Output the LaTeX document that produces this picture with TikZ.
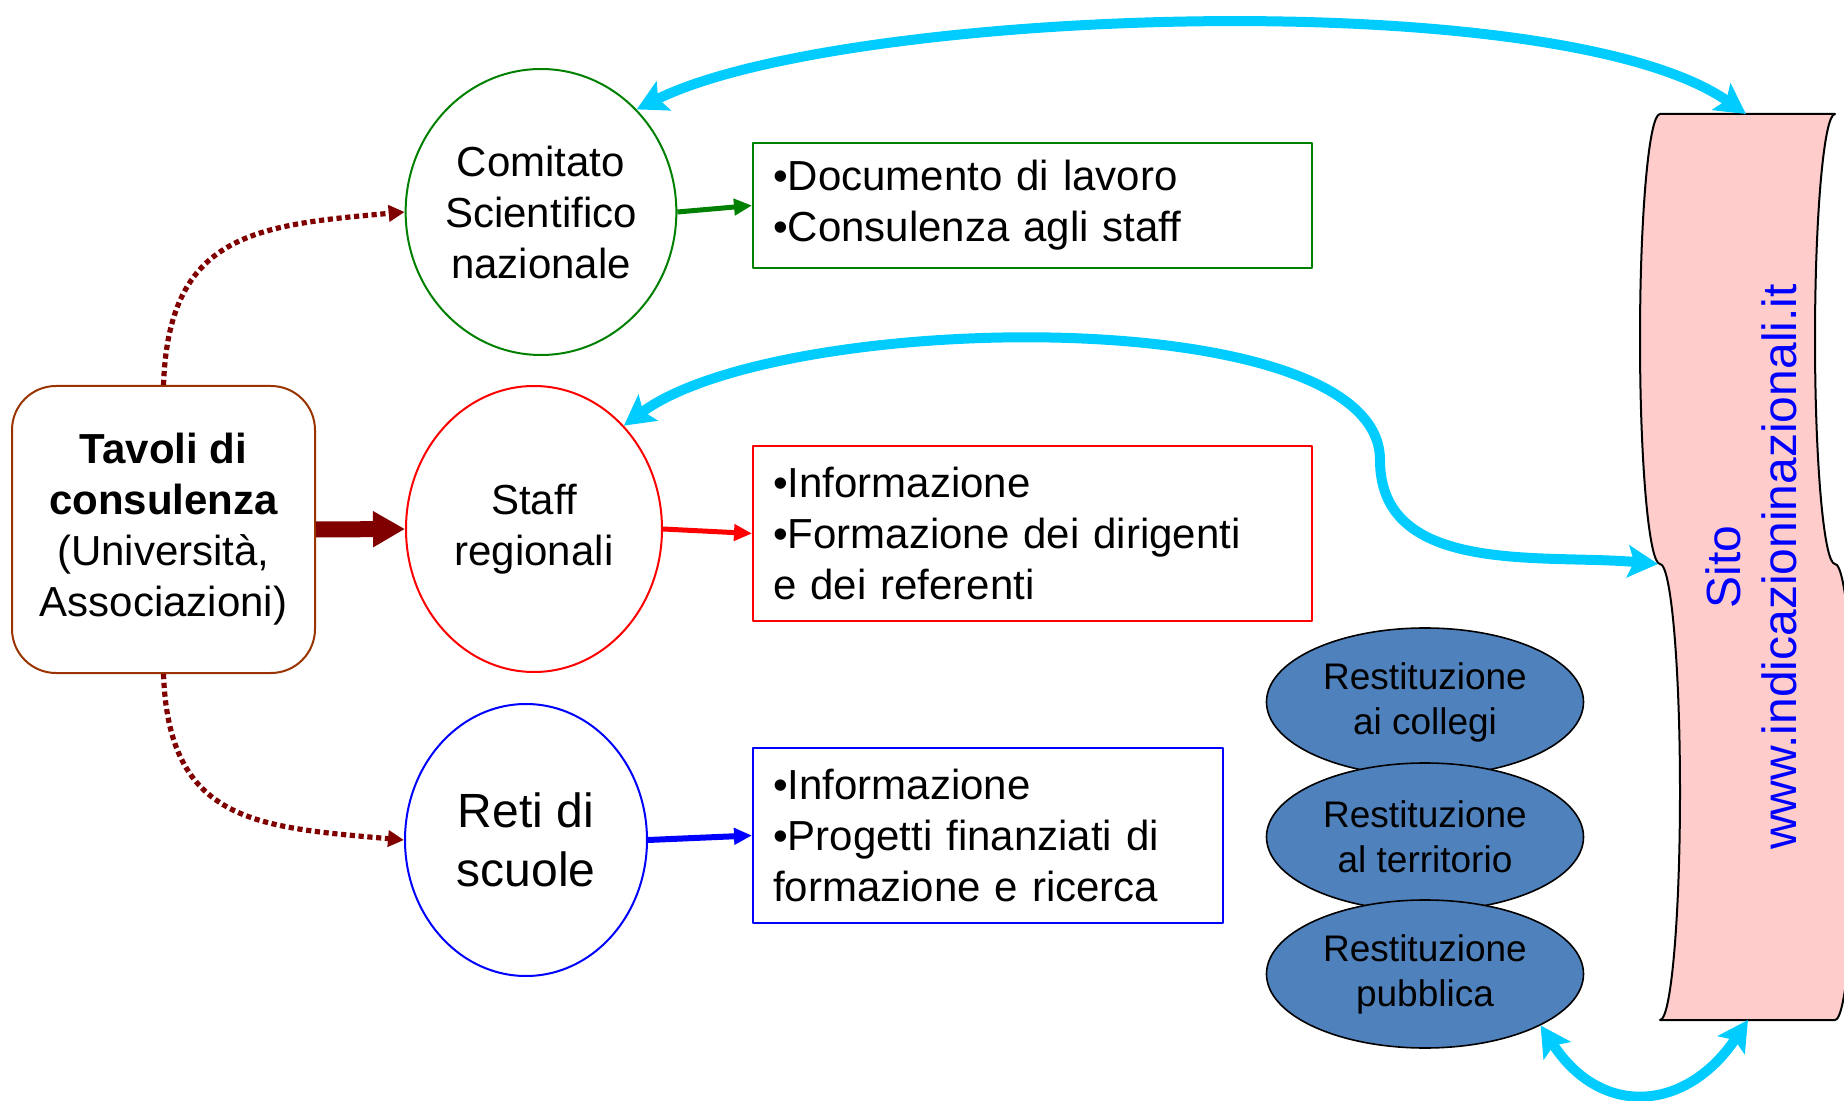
\documentclass[tikz,border=0pt]{standalone}
\usepackage{fontspec}
\setmainfont{Liberation Sans}
\usepackage{tikz}
\usetikzlibrary{arrows.meta,shapes.geometric}
\definecolor{sky}{RGB}{0,204,255}
\definecolor{maroon}{RGB}{128,0,0}
\definecolor{leaf}{RGB}{0,128,0}
\definecolor{rust}{RGB}{153,51,0}
\definecolor{steel}{RGB}{79,129,189}
\definecolor{blush}{RGB}{255,204,204}
\begin{document}
\begin{tikzpicture}[line cap=round,line join=round,x=0.5pt,y=0.5pt,
txt/.style={font=\fontsize{21}{25.5}\selectfont},
bubble/.style={ellipse,draw=#1,line width=1pt,inner sep=0pt,align=center,txt},
listbox/.style={rectangle,draw=#1,line width=1pt,inner xsep=10pt,inner ysep=0pt,align=left,txt},
restbubble/.style={ellipse,draw=black,fill=steel,line width=0.8pt,minimum width=158.5pt,minimum height=74pt,inner sep=0pt,align=center,font=\fontsize{18.5}{22.5}\selectfont},
bigfeed/.style={draw=maroon,line width=8pt,line cap=butt,-{Triangle[length=16pt,width=17pt]}},
feed/.style={draw=#1,line width=2.5pt,line cap=butt,-{Triangle[length=9pt,width=8pt]}},
dotfeed/.style={draw=maroon,line width=2.6pt,line cap=butt,dash pattern=on 2.6pt off 1.8pt,-{Triangle[length=8pt,width=8pt]}},
link/.style={draw=sky,line width=5pt,line cap=butt,{Stealth[length=15pt,width=16pt,inset=3pt]}-{Stealth[length=15pt,width=16pt,inset=3pt]}}]
\useasboundingbox (0,0) rectangle (1844,1100);
\draw[fill=blush,line width=1pt] (1660,986) -- (1835,986) arc[start angle=90,end angle=270,x radius=20,y radius=225] arc[start angle=90,end angle=-90,x radius=20,y radius=228] -- (1660,80) arc[start angle=-90,end angle=90,x radius=20,y radius=228] arc[start angle=270,end angle=90,x radius=20,y radius=225] -- cycle;
\node[rotate=90,align=center,text=blue,font=\fontsize{24}{28}\selectfont] (sito) at (1751,533) {Sito\\www.indicazioninazionali.it};
\coordinate (sitotop) at (1746,986);
\coordinate (sitoleft) at (1658,536);
\coordinate (sitobottom) at (1748,80);
\node[rectangle,rounded corners=22pt,draw=rust,line width=1pt,minimum width=151.5pt,minimum height=143.5pt,align=center,txt] (tavoli) at (163.5,570.5) {\textbf{Tavoli di}\\\textbf{consulenza}\\(Università,\\Associazioni)};
\node[bubble=leaf,minimum width=135pt,minimum height=143pt] (comitato) at (541,888) {Comitato\\Scientifico\\nazionale};
\node[bubble=red,minimum width=128pt,minimum height=143pt] (staff) at (534,571) {Staff\\regionali};
\node[bubble=blue,minimum width=121pt,minimum height=136pt,font=\fontsize{24}{29.5}\selectfont] (reti) at (526,260) {Reti di\\scuole};
\node[listbox=leaf,text width=259.5pt,minimum height=62.5pt] (docbox) at (1032.5,894.5) {•Documento di lavoro\\•Consulenza agli staff};
\node[listbox=red,text width=259.5pt,minimum height=87.5pt] (infobox) at (1032.5,566.5) {•Informazione\\•Formazione dei dirigenti\\e dei referenti};
\node[listbox=blue,text width=215pt,minimum height=87.5pt] (progbox) at (988,264.5) {•Informazione\\•Progetti finanziati di\\formazione e ricerca};
\node[restbubble] (rest1) at (1425,398) {Restituzione\\ai collegi};
\node[restbubble] (rest2) at (1425,263) {Restituzione\\al territorio};
\node[restbubble] (rest3) at (1425,126) {Restituzione\\pubblica};
\draw[bigfeed] (tavoli.east) -- (staff.west);
\draw[dotfeed] (tavoli.north) to[out=88,in=185,looseness=1.3] (comitato.west);
\draw[dotfeed] (tavoli.south) to[out=-88,in=175,looseness=1.3] (reti.west);
\draw[feed=leaf] (comitato.east) -- (docbox.west);
\draw[feed=red] (staff.east) -- (infobox.west);
\draw[feed=blue,line width=3pt] (reti.east) -- (progbox.west);
\draw[link] (comitato.47) .. controls (840,1092) and (1557,1118) .. (sitotop);
\draw[link] (staff.49) .. controls (780,790) and (1380,800) .. (1380,640) to[out=-90,in=175] (sitoleft);
\draw[link] (rest3.-24) .. controls (1602,-19) and (1687,-11) .. (sitobottom);
\end{tikzpicture}
\end{document}
